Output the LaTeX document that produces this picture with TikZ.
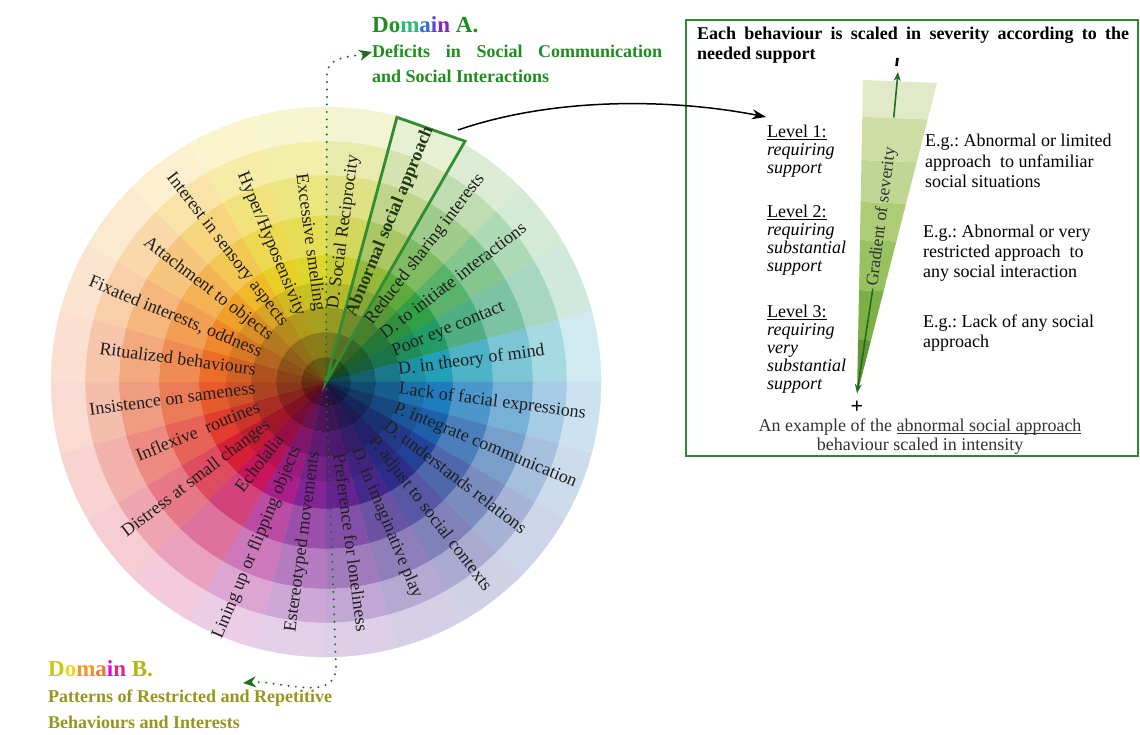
\documentclass[tikz,border=0pt]{standalone}
\usepackage{fontspec}
\setmainfont{Liberation Serif}
\usetikzlibrary{arrows.meta,calc}
\frenchspacing
% underline sitting just below the baseline
\newcommand{\ulin}[1]{\underline{\smash{#1}}}

% hues of the 24 wheel sectors, clockwise from 12 o'clock
\definecolor{hue0}{RGB}{200,205,50}
\definecolor{hue1}{RGB}{150,185,60}
\definecolor{hue2}{RGB}{95,170,60}
\definecolor{hue3}{RGB}{50,160,70}
\definecolor{hue4}{RGB}{35,155,100}
\definecolor{hue5}{RGB}{35,160,185}
\definecolor{hue6}{RGB}{30,125,190}
\definecolor{hue7}{RGB}{30,95,170}
\definecolor{hue8}{RGB}{35,65,150}
\definecolor{hue9}{RGB}{45,45,140}
\definecolor{hue10}{RGB}{70,40,140}
\definecolor{hue11}{RGB}{100,35,145}
\definecolor{hue12}{RGB}{130,35,150}
\definecolor{hue13}{RGB}{170,30,140}
\definecolor{hue14}{RGB}{200,20,90}
\definecolor{hue15}{RGB}{215,30,55}
\definecolor{hue16}{RGB}{225,60,45}
\definecolor{hue17}{RGB}{230,90,45}
\definecolor{hue18}{RGB}{235,110,40}
\definecolor{hue19}{RGB}{240,135,40}
\definecolor{hue20}{RGB}{240,160,40}
\definecolor{hue21}{RGB}{240,185,40}
\definecolor{hue22}{RGB}{232,207,35}
\definecolor{hue23}{RGB}{222,214,42}

\definecolor{selgreen}{RGB}{50,140,50}
\definecolor{boxgreen}{RGB}{50,135,50}
\definecolor{dotgreen}{RGB}{30,110,30}
\definecolor{absel}{RGB}{30,60,20}
\definecolor{txtA}{RGB}{30,140,30}
\definecolor{txtB}{RGB}{150,150,30}
\definecolor{dAo}{RGB}{30,150,40}
\definecolor{dAm}{RGB}{40,190,120}
\definecolor{dAa}{RGB}{40,110,220}
\definecolor{dAi}{RGB}{90,70,210}
\definecolor{dAn}{RGB}{130,40,190}
\definecolor{dBD}{RGB}{200,200,20}
\definecolor{dBo}{RGB}{235,215,30}
\definecolor{dBm}{RGB}{240,150,40}
\definecolor{dBa}{RGB}{245,120,50}
\definecolor{dBi}{RGB}{235,0,215}
\definecolor{dBn}{RGB}{220,40,140}
\definecolor{dBB}{RGB}{180,180,20}
\definecolor{wb1}{RGB}{226,233,200}
\definecolor{wb2}{RGB}{205,222,165}
\definecolor{wb3}{RGB}{192,214,148}
\definecolor{wb4}{RGB}{172,204,118}
\definecolor{wb5}{RGB}{152,194,95}
\definecolor{wb6}{RGB}{125,175,70}
\definecolor{wb7}{RGB}{100,150,55}

\tikzset{
  wlab/.style={font=\fontsize{18}{21}\selectfont, text=black!88, inner sep=0pt},
  plain/.style={inner sep=0pt, font=\fontsize{18}{21}\selectfont},
  dotline/.style={draw=dotgreen, line width=2.2pt, line cap=round, dash pattern=on 0pt off 7.5pt},
  garrow/.style={draw=dotgreen, line width=1.6pt, -{Stealth[length=9pt,width=7pt]}},
}

\begin{document}
\begin{tikzpicture}[x=1pt,y=1pt]
\useasboundingbox (0,0) rectangle (1140,735);

% ---------------- colour wheel ----------------
\begin{scope}[shift={(326,353)}]
  \coordinate (cen) at (0,0);
  \foreach \i in {0,...,23}{
    \pgfmathsetmacro{\aa}{90-15*\i}
    \pgfmathsetmacro{\ab}{75-15*\i}
    \foreach \ri/\ro/\mode/\pct in {0.1/25/black/45, 25/50/black/60, 50/75/black/75,
        75/100/black/90, 100/127/black/100, 127/167/white/80, 167/207/white/60,
        207/241/white/40, 241/275/white/22}{
      \colorlet{cur}{hue\i!\pct!\mode}
      \path[fill=cur, draw=cur, line width=0.3pt]
        (\aa:\ri) arc[start angle=\aa, end angle=\ab, radius=\ri]
        -- (\ab:\ro) arc[start angle=\ab, end angle=\aa, radius=\ro] -- cycle;
    }
  }

  % highlighted sector
  \draw[selgreen, line width=2.8pt, line join=miter] (cen) -- (75:274) -- (60:278) -- cycle;

  % Domain A behaviours
  \foreach \i/\t in {0/{D. Social Reciprocity},2/{Reduced sharing interests},
      3/{D. to initiate interactions},4/{Poor eye contact},5/{D. in theory of mind},
      6/{Lack of facial expressions},7/{P. integrate communication},
      8/{D. understands relations},9/{P. adjust to social contexts},
      10/{D. in imaginative play},11/{Preference for loneliness}}{
    \pgfmathsetmacro{\th}{82.5-15*\i}
    \node[wlab, anchor=mid west, rotate=\th] (lab\i) at (\th:73) {\t};
  }
  \node[wlab, font=\fontsize{18}{21}\selectfont\bfseries, text=absel,
        anchor=mid west, rotate=67.5] (lab1) at (67.5:71) {Abnormal social approach};

  % Domain B behaviours
  \foreach \i/\t in {12/{Estereotyped movements},13/{Lining up or flipping objects},
      14/{Echolalia},15/{Distress at small changes},16/{Inflexive\ \ routines},
      17/{Insistence on sameness},18/{Ritualized behaviours},
      19/{Fixated interests, oddness},20/{Attachment to objects},
      21/{Interest in sensory aspects},22/{Hyper/Hyposensivity},23/{Excessive smelling}}{
    \pgfmathsetmacro{\th}{82.5-15*\i}
    \pgfmathsetmacro{\rt}{\th+180}
    \node[wlab, anchor=mid east, rotate=\rt] (lab\i) at (\th:71) {\t};
  }
\end{scope}

% ---------------- domain titles ----------------
\node[anchor=base west, inner sep=0pt, font=\fontsize{23}{26}\selectfont\bfseries] (domA) at (372,702)
  {\textcolor{txtA}{D}\textcolor{dAo}{o}\textcolor{dAm}{m}\textcolor{dAa}{a}\textcolor{dAi}{i}\textcolor{dAn}{n}\ \textcolor{txtA}{A.}};
\node[anchor=base west, inner sep=0pt, text=txtA] (subA) at (372,677)
  {\parbox[t]{290pt}{\fontsize{18}{25}\selectfont\bfseries Deficits in Social Communication\linebreak and Social Interactions}};

\node[anchor=base west, inner sep=0pt, font=\fontsize{23}{26}\selectfont\bfseries] (domB) at (48,58)
  {\textcolor{dBD}{D}\textcolor{dBo}{o}\textcolor{dBm}{m}\textcolor{dBa}{a}\textcolor{dBi}{i}\textcolor{dBn}{n}\ \textcolor{dBB}{B.}};
\node[anchor=base west, inner sep=0pt, text=txtB] (subB) at (48,32)
  {\parbox[t]{320pt}{\raggedright\fontsize{18}{26}\selectfont\bfseries Patterns of Restricted and Repetitive\\ Behaviours and Interests}};

% dotted domain connectors along the wheel's vertical axis
\coordinate (tipA) at (372,683);
\coordinate (tipB) at (243,52);
\draw[dotline, -{Stealth[length=13pt,width=11pt]}] (cen) -- (327,660) to[out=90, in=195] (tipA);
\draw[dotline, -{Stealth[length=13pt,width=11pt]}] (cen) -- (336,68) to[out=-90, in=5] (tipB);

% ---------------- severity panel ----------------
\draw[boxgreen, line width=1.8pt] (686,715) rectangle (1138,279);
\node[anchor=base west, inner sep=0pt] (boxtitle) at (697,695)
  {\parbox[t]{432pt}{\fontsize{18}{20}\selectfont\bfseries Each behaviour is scaled in severity according to the\linebreak needed support}};

% graded wedge
\coordinate (apex) at (857,340);
\coordinate (tl) at (863,655);
\coordinate (tr) at (937,652);
\foreach \ta/\tb/\c in {0.883/1/wb1, 0.746/0.883/wb2, 0.613/0.746/wb3, 0.492/0.613/wb4,
    0.333/0.492/wb5, 0.175/0.333/wb6, 0/0.175/wb7}{
  \fill[\c] ($(apex)!\ta!(tl)$) -- ($(apex)!\tb!(tl)$) -- ($(apex)!\tb!(tr)$) -- ($(apex)!\ta!(tr)$) -- cycle;
}
\node[inner sep=2pt, rotate=82.7, font=\fontsize{17.5}{20}\selectfont, text=black!80] (grad) at (882,518) {Gradient of severity};
\node[inner sep=0pt, rotate=-7] (minus) at (897,673) {\rule{2.6pt}{8pt}};
\node[inner sep=0pt, font=\fontsize{22}{22}\selectfont\bfseries] (plus) at (857,328) {+};
\coordinate (upTip) at (898,663);
\coordinate (downTip) at (857,342);
\draw[garrow, shorten <=28pt] (grad.east) -- (upTip);
\draw[garrow] (grad.west) -- (downTip);

% levels of support
\node[plain, anchor=base west] (lev1) at (767,597)
  {\parbox[t]{120pt}{\raggedright\fontsize{18}{18}\selectfont\ulin{Level 1:}\\\textit{requiring}\\\textit{support}}};
\node[plain, anchor=base west] (lev2) at (767,517)
  {\parbox[t]{120pt}{\raggedright\fontsize{18}{18}\selectfont\ulin{Level 2:}\\\textit{requiring}\\\textit{substantial}\\\textit{support}}};
\node[plain, anchor=base west] (lev3) at (767,417)
  {\parbox[t]{120pt}{\raggedright\fontsize{18}{18}\selectfont\ulin{Level 3:}\\\textit{requiring}\\\textit{very}\\\textit{substantial}\\\textit{support}}};

% examples
\node[plain, anchor=base west] (ex1) at (925,588)
  {\parbox[t]{210pt}{\raggedright\fontsize{18}{20.5}\selectfont E.g.: Abnormal or limited\\ approach\ \ to unfamiliar\\ social situations}};
\node[plain, anchor=base west] (ex2) at (923,497)
  {\parbox[t]{210pt}{\raggedright\fontsize{18}{20}\selectfont E.g.: Abnormal or very\\ restricted approach\ \ to\\ any social interaction}};
\node[plain, anchor=base west] (ex3) at (923,407)
  {\parbox[t]{210pt}{\raggedright\fontsize{18}{20}\selectfont E.g.: Lack of any social\\ approach}};

\node[plain, anchor=base, text=black!80] (caption) at (920,303)
  {\parbox[t]{400pt}{\centering\fontsize{18}{19}\selectfont An example of the \ulin{abnormal social approach}\\ behaviour scaled in intensity}};

% link from the highlighted sector to the panel
\coordinate (arrS) at (458,605);
\coordinate (arrE) at (766,618);
\draw[line width=1.5pt, -{Stealth[length=14pt,width=10pt]}] (arrS) .. controls (560,640) and (680,635) .. (arrE);
\end{tikzpicture}
\end{document}
